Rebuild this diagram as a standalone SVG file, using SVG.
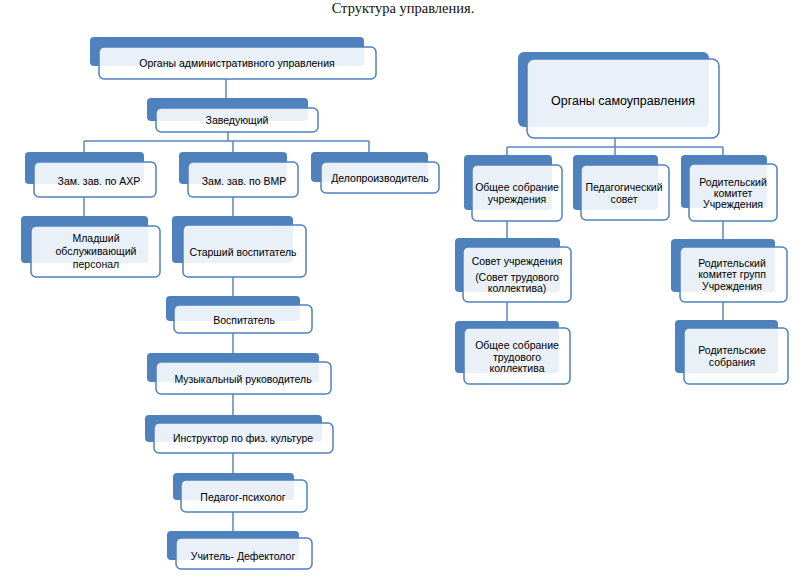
<svg xmlns="http://www.w3.org/2000/svg" width="800" height="578" viewBox="0 0 800 578">
<style>
.bg{fill:#4F81BD}
.fg{fill:#ffffff;fill-opacity:0.88;stroke:#4F81BD;stroke-width:1.5}
.t{font-family:"Liberation Sans",Arial,sans-serif;font-size:10.5px;fill:#000;text-anchor:middle}
.tl{font-family:"Liberation Sans",Arial,sans-serif;font-size:12.5px;fill:#000;text-anchor:middle}
.title{font-family:"Liberation Serif","Times New Roman",serif;font-size:14.5px;fill:#111;text-anchor:middle}
.c{fill:none;stroke:#5A87C0;stroke-width:1.5}
</style>
<rect width="800" height="578" fill="#ffffff"/>
<text class="title" x="403" y="13">Структура управления.</text>
<g id="connectors">
<path class="c" d="M226 79V98"/>
<path class="c" d="M228 132V141M84 141H369M84 141V152M233 141V152M369 141V152"/>
<path class="c" d="M84 197V216"/>
<path class="c" d="M233 197V216M233 277V296M233 333V353M233 394V415M233 453V473M233 512V531"/>
<path class="c" d="M615 138V147M507 147H723M507 147V155M615 147V155M723 147V155"/>
<path class="c" d="M507 221V238M507 302V321"/>
<path class="c" d="M723 221V239M723 302V320"/>
</g>
<g id="n-admin"><rect class="bg" x="90" y="37" width="274" height="29" rx="4"/><rect class="fg" x="99" y="47" width="277" height="32" rx="5"/><text class="t" x="237" y="67">Органы административного управления</text></g>
<g id="n-zav"><rect class="bg" x="147" y="98" width="161" height="23" rx="4"/><rect class="fg" x="156" y="108" width="162" height="24" rx="5"/><text class="t" x="237" y="124">Заведующий</text></g>
<g id="n-axr"><rect class="bg" x="25" y="152" width="119" height="32" rx="4"/><rect class="fg" x="34" y="162" width="122" height="35" rx="5"/><text class="t" x="99" y="185">Зам. зав. по АХР</text></g>
<g id="n-vmr"><rect class="bg" x="179" y="152" width="108" height="32" rx="4"/><rect class="fg" x="188" y="162" width="110" height="35" rx="5"/><text class="t" x="244" y="185">Зам. зав. по ВМР</text></g>
<g id="n-delo"><rect class="bg" x="311" y="152" width="117" height="30" rx="4"/><rect class="fg" x="321" y="162" width="118" height="31" rx="5"/><text class="t" x="380" y="182">Делопроизводитель</text></g>
<g id="n-mlad"><rect class="bg" x="21" y="216" width="127" height="47" rx="4"/><rect class="fg" x="31" y="226" width="129" height="51" rx="5"/><text class="t" x="96" y="242">Младший</text><text class="t" x="96" y="255">обслуживающий</text><text class="t" x="96" y="268">персонал</text></g>
<g id="n-star"><rect class="bg" x="172" y="216" width="121" height="47" rx="4"/><rect class="fg" x="183" y="225" width="123" height="52" rx="5"/><text class="t" x="243" y="256">Старший воспитатель</text></g>
<g id="n-vosp"><rect class="bg" x="166" y="296" width="134" height="25" rx="4"/><rect class="fg" x="174" y="305" width="138" height="28" rx="5"/><text class="t" x="244" y="324">Воспитатель</text></g>
<g id="n-muz"><rect class="bg" x="147" y="353" width="172" height="29" rx="4"/><rect class="fg" x="156" y="362" width="175" height="32" rx="5"/><text class="t" x="243" y="383">Музыкальный руководитель</text></g>
<g id="n-fiz"><rect class="bg" x="145" y="415" width="177" height="27" rx="4"/><rect class="fg" x="154" y="423" width="179" height="30" rx="5"/><text class="t" x="243" y="442">Инструктор по физ. культуре</text></g>
<g id="n-psy"><rect class="bg" x="173" y="473" width="121" height="27" rx="4"/><rect class="fg" x="181" y="480" width="126" height="32" rx="5"/><text class="t" x="243" y="501">Педагог-психолог</text></g>
<g id="n-def"><rect class="bg" x="167" y="531" width="132" height="29" rx="4"/><rect class="fg" x="176" y="538" width="136" height="31" rx="5"/><text class="t" x="243" y="560">Учитель- Дефектолог</text></g>
<g id="n-samo"><rect class="bg" x="518" y="52" width="191" height="75" rx="6"/><rect class="fg" x="527" y="59" width="192" height="79" rx="7"/><text class="tl" x="623" y="105">Органы самоуправления</text></g>
<g id="n-obsch"><rect class="bg" x="464" y="155" width="88" height="55" rx="4"/><rect class="fg" x="472" y="165" width="90" height="56" rx="5"/><text class="t" x="517" y="191">Общее собрание</text><text class="t" x="517" y="203">учреждения</text></g>
<g id="n-ped"><rect class="bg" x="573" y="155" width="85" height="55" rx="4"/><rect class="fg" x="581" y="165" width="88" height="55" rx="5"/><text class="t" x="624" y="191">Педагогический</text><text class="t" x="624" y="203">совет</text></g>
<g id="n-rodk"><rect class="bg" x="681" y="155" width="86" height="53" rx="4"/><rect class="fg" x="689" y="164" width="88" height="57" rx="5"/><text class="t" x="733" y="186">Родительский</text><text class="t" x="733" y="197">комитет</text><text class="t" x="733" y="208">Учреждения</text></g>
<g id="n-sovet"><rect class="bg" x="455" y="238" width="105" height="54" rx="4"/><rect class="fg" x="463" y="247" width="108" height="55" rx="5"/><text class="t" x="517" y="265">Совет учреждения</text><text class="t" x="517" y="281">(Совет трудового</text><text class="t" x="517" y="292">коллектива)</text></g>
<g id="n-obtr"><rect class="bg" x="455" y="321" width="104" height="52" rx="4"/><rect class="fg" x="464" y="328" width="106" height="56" rx="5"/><text class="t" x="517" y="349">Общее собрание</text><text class="t" x="517" y="361">трудового</text><text class="t" x="517" y="372">коллектива</text></g>
<g id="n-rodg"><rect class="bg" x="671" y="239" width="104" height="53" rx="4"/><rect class="fg" x="680" y="247" width="107" height="55" rx="5"/><text class="t" x="732" y="267">Родительский</text><text class="t" x="732" y="278">комитет групп</text><text class="t" x="732" y="290">Учреждения</text></g>
<g id="n-rods"><rect class="bg" x="675" y="320" width="103" height="53" rx="4"/><rect class="fg" x="684" y="328" width="104" height="56" rx="5"/><text class="t" x="732" y="354">Родительские</text><text class="t" x="732" y="366">собрания</text></g>
</svg>
